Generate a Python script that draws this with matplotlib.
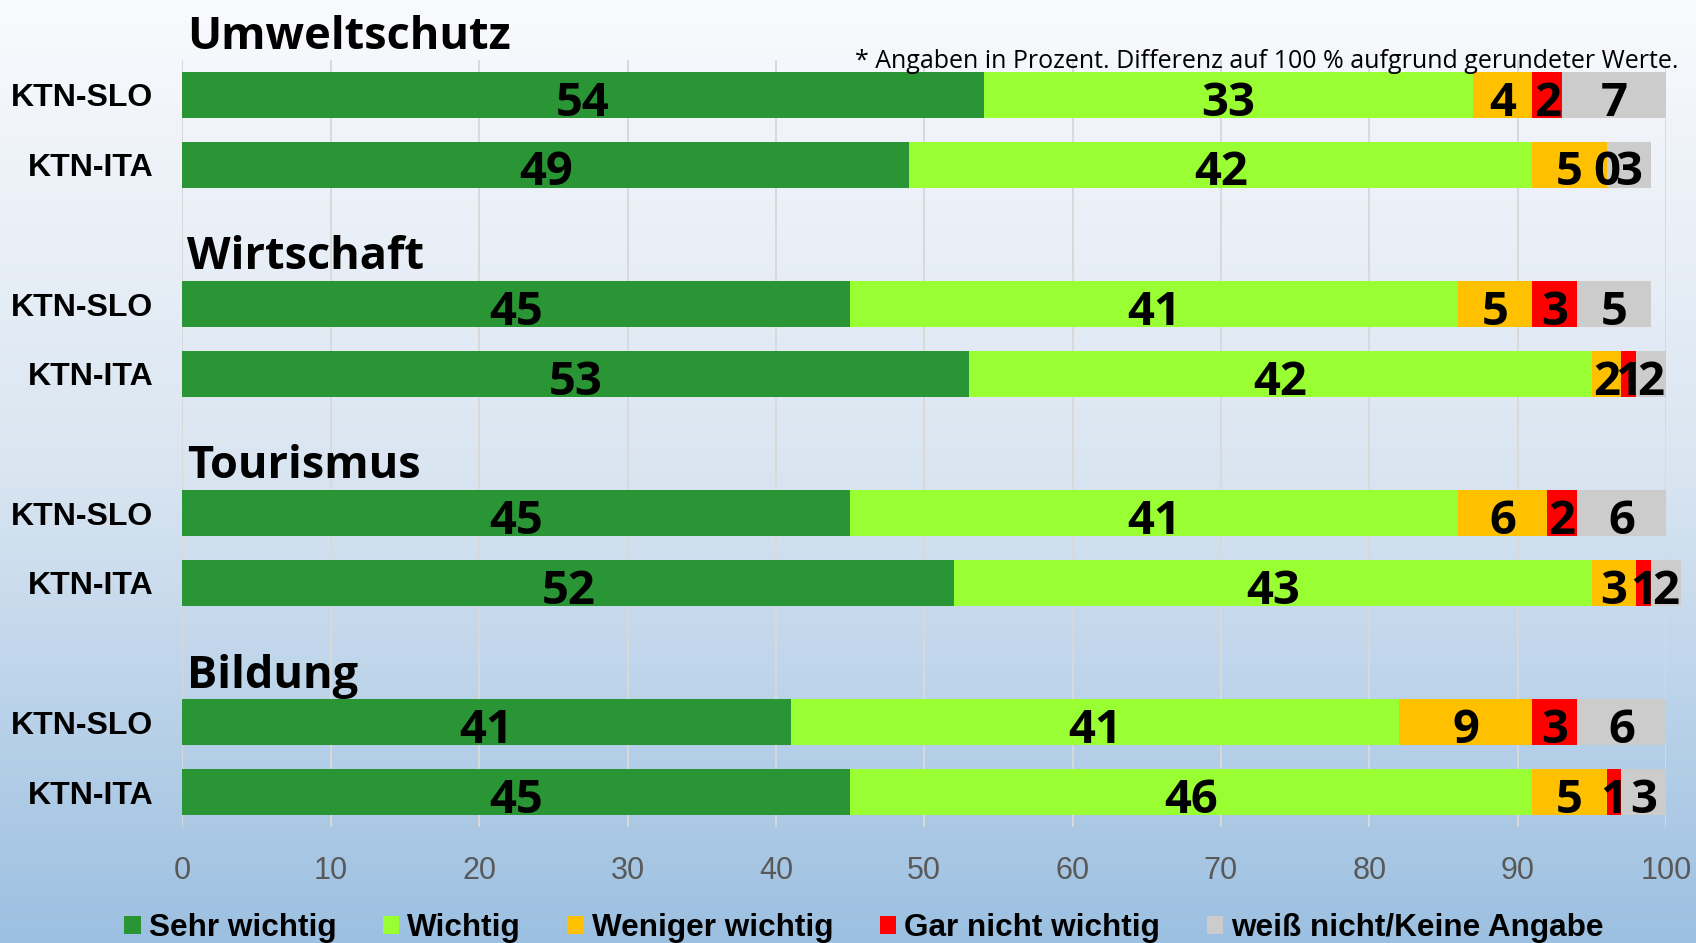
import numpy as np
import matplotlib
matplotlib.use("Agg")
import matplotlib.pyplot as plt
from matplotlib.colors import LinearSegmentedColormap
from matplotlib.patches import Patch

plt.rcParams["font.family"] = ["Liberation Sans", "DejaVu Sans"]

# survey data (percent), two regions per topic
topics = ["Umweltschutz", "Wirtschaft", "Tourismus", "Bildung"]
regions = ["KTN-SLO", "KTN-ITA"] * 4
sehr_wichtig = [54, 49, 45, 53, 45, 52, 41, 45]
wichtig = [33, 42, 41, 42, 41, 43, 41, 46]
weniger_wichtig = [4, 5, 5, 2, 6, 3, 9, 5]
gar_nicht = [2, 0, 3, 1, 2, 1, 3, 1]
weiss_nicht = [7, 3, 5, 2, 6, 2, 6, 3]
series_names = ["Sehr wichtig", "Wichtig", "Weniger wichtig",
                "Gar nicht wichtig", "weiß nicht/Keine Angabe"]
colors = ["#2A9535", "#99FF33", "#FFC000", "#FF0000", "#CCCCCC"]
note = "* Angaben in Prozent. Differenz auf 100 % aufgrund gerundeter Werte."

fig = plt.figure(figsize=(16.96, 9.43), dpi=100)

# background gradient white -> light blue
bg = fig.add_axes([0, 0, 1, 1], zorder=-10)
cmap = LinearSegmentedColormap.from_list(
    "bg", [(0, "#F9FAFD"), (0.5, "#D9E5F1"), (1, "#9CC0E1")])
bg.imshow(np.linspace(0, 1, 256).reshape(-1, 1), aspect="auto", cmap=cmap,
          extent=[0, 1, 0, 1])
bg.axis("off")

ax = fig.add_axes([0.1076, 0.123, 0.8747, 0.8134])
ax.set_facecolor("none")

# bar slots, leaving a gap row for each topic title
slots = [0, 1, 3, 4, 6, 7, 9, 10]
title_rows = [-0.66, 2.5, 5.5, 8.5]

series = [sehr_wichtig, wichtig, weniger_wichtig, gar_nicht, weiss_nicht]
left = np.zeros(len(slots))
for vals, c in zip(series, colors):
    vals = np.array(vals)
    ax.barh(slots, vals, left=left, height=0.66, color=c, zorder=2,
            clip_on=False)
    for y, l, v in zip(slots, left, vals):
        ax.text(l + v / 2, y + 0.30, str(v), ha="center", va="baseline",
                fontsize=34, fontweight="bold", family="Open Sans",
                color="black", zorder=3, clip_on=False)
    left = left + vals

for t, row in zip(topics, title_rows):
    ax.text(0.3, row, t, ha="left", va="baseline", fontsize=32.5,
            fontweight="bold", family="Open Sans", clip_on=False)

ax.set_xlim(0, 100)
ax.set_ylim(10.5, -0.5)
ax.set_xticks(range(0, 101, 10))
ax.set_yticks(slots)
ax.set_yticklabels(regions, fontsize=23, fontweight="bold")
ax.tick_params(axis="y", length=0, pad=21)
ax.tick_params(axis="x", length=0, pad=21, labelsize=22, labelcolor="#595959")
ax.grid(axis="x", color="#D9D9D9", linewidth=1.4, zorder=0)
ax.set_axisbelow(True)
for s in ax.spines.values():
    s.set_visible(False)

fig.text(0.9894, 0.9279, note, ha="right", va="baseline", fontsize=18,
         family="Open Sans")

handles = [Patch(facecolor=c, edgecolor="none") for c in colors]
fig.legend(handles, series_names, loc="center", ncol=5,
           bbox_to_anchor=(0.5094, 1 - 928 / 943), frameon=False,
           prop={"size": 22.7, "weight": "bold"}, handlelength=0.52,
           handleheight=0.52, handletextpad=0.26, columnspacing=1.47)

fig.savefig("out.png", dpi=100)
